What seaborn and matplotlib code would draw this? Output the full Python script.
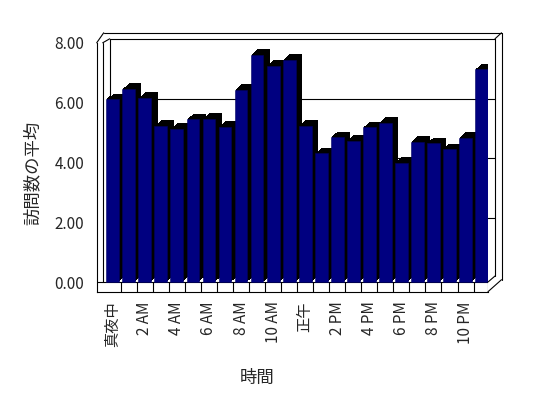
import numpy as np
import seaborn as sns
import matplotlib.pyplot as plt
from matplotlib import patheffects
from matplotlib.lines import Line2D

# 時間帯ごとの訪問数の平均
hours = ['真夜中', '1 AM', '2 AM', '3 AM', '4 AM', '5 AM', '6 AM', '7 AM',
         '8 AM', '9 AM', '10 AM', '11 AM', '正午', '1 PM', '2 PM', '3 PM',
         '4 PM', '5 PM', '6 PM', '7 PM', '8 PM', '9 PM', '10 PM', '11 PM']
visits = [6.11, 6.45, 6.16, 5.23, 5.13, 5.44, 5.46, 5.19, 6.43, 7.60, 7.24, 7.43,
          5.23, 4.30, 4.84, 4.73, 5.17, 5.32, 3.99, 4.69, 4.64, 4.44, 4.81, 7.11]
yticks = [0, 2, 4, 6, 8]

sns.set_theme(style='white')
plt.rcParams['font.family'] = ['Noto Sans CJK JP', 'DejaVu Sans']

W, H = 548, 398
fig = plt.figure(figsize=(W / 100, H / 100), dpi=100)
ax = fig.add_axes([96.7 / W, 1 - 291.7 / H, 391.3 / W, 248.9 / H])
ax.patch.set_visible(False)

sns.barplot(x=hours, y=visits, color='#000080', saturation=1, width=0.8,
            edgecolor='#000060', linewidth=0.4, ax=ax)

# 3D風の黒い側面・上面 (影を少しずつずらして重ねる)
px2pt = 0.72
depth = [patheffects.SimplePatchShadow(offset=(k * 1.05 * px2pt, k * 0.95 * px2pt),
                                       shadow_rgbFace='black', alpha=1)
         for k in range(6, 0, -1)]
for bar in ax.patches:
    bar.set_path_effects(depth + [patheffects.Normal()])

L, R, B, T = -1.0, 23.4, -0.324, 8.0
ax.set_xlim(L, R)
ax.set_ylim(B, T)

ax.set_yticks(yticks)
ax.set_yticklabels([f'{v:.2f}' for v in yticks], fontsize=11)
ax.set_xticks(range(0, 24, 2))
ax.set_xticklabels(hours[::2], rotation=90, fontsize=11)
ax.tick_params(axis='y', direction='in', length=4.5, width=0.8, color='black', pad=9)
ax.tick_params(axis='x', length=0, pad=7)
ax.set_xlabel('')
ax.set_ylabel('')
for s in ['top', 'right']:
    ax.spines[s].set_visible(False)
for s in ['left', 'bottom']:
    ax.spines[s].set_color('black')
    ax.spines[s].set_linewidth(0.8)

# 床
ax.plot([L, R], [0, 0], color='black', lw=0.8, zorder=0.5)
for xb in list(np.arange(0.5, 23, 1)) + [R]:
    ax.plot([xb, xb], [B, 0], color='black', lw=0.8, zorder=0.5)

inv = fig.transFigure.inverted()


def seg(p0, p1, z=3):
    a = ax.transData.transform(p0[:2]) + np.array(p0[2:])
    b = ax.transData.transform(p1[:2]) + np.array(p1[2:])
    fa, fb = inv.transform([a, b])
    fig.add_artist(Line2D([fa[0], fb[0]], [fa[1], fb[1]], transform=fig.transFigure,
                          color='black', lw=0.8, zorder=z))


# 壁 (奥の目盛線は棒の後ろ)
for v in yticks[1:]:
    seg((L, v, 13, 4), (R, v, 7, 4), z=-1)
seg((L, T, 13, 4), (L, 0, 13, 4), z=-1)
seg((L, T, 0, 0), (L, T, 7, 10))
seg((L, T, 6, 0), (L, T, 13, 4))
seg((L, T, 7, 10), (R, T, 13.5, 10))
seg((L, T, 6, 0), (L, 0, 6, 0), z=-1)
seg((R, T, 13.5, 10), (R, B, 13.5, 12))
seg((R, T, 7, 4), (R, 0, 7, 6))
seg((R, T, 7, 4), (R, T, 13.5, 10))
seg((R, B, 0, 0), (R, B, 13.5, 12))
seg((R, 0, 0, 0), (R, 0, 7, 6))

fig.text(33 / W, 1 - 173 / H, '訪問数の平均', rotation=90, ha='center', va='center', fontsize=12.5)
fig.text(257 / W, 1 - 378 / H, '時間', ha='center', va='center', fontsize=12.5)

fig.savefig('out.png', dpi=100, facecolor='white')
